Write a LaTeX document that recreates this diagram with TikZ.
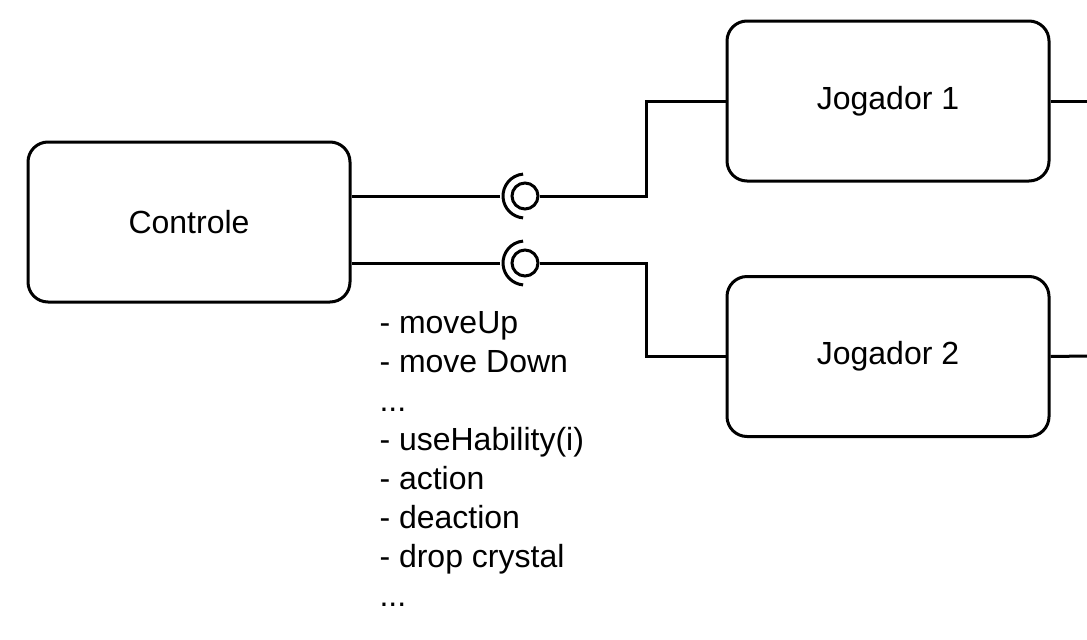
\documentclass[tikz,border=0pt]{standalone}
\usepackage{fontspec}
\setmainfont{Liberation Sans}
\begin{document}
\begin{tikzpicture}[x=0.75pt,y=-0.75pt,line width=2.25pt,
  comp/.style={draw,rounded corners=15pt,minimum width=241.5pt,minimum height=120pt,font=\fontsize{24}{29}\selectfont},
  ball/.style={draw,circle,minimum size=19.5pt,inner sep=0pt},
  wire/.style={draw}]
\useasboundingbox (0,0) rectangle (1087,639);
\node[comp] (c) at (189,222) {Controle};
\node[comp] (j1) at (888,101) {Jogador 1};
\node[comp] (j2) at (888,356.5) {Jogador 2};
\node[ball] (s1) at (525,196) {};
\node[ball] (s2) at (525,263) {};
\draw ([shift={(95:16.5pt)}]s1.center) arc[start angle=95,end angle=265,radius=16.5pt];
\draw ([shift={(95:16.5pt)}]s2.center) arc[start angle=95,end angle=265,radius=16.5pt];
\coordinate (k1) at (646,196);
\coordinate (k2) at (646,263);
\coordinate (e1) at (1087,101);
\coordinate (e2) at (1087,356);
\draw[wire] (c.east |- s1.center) -- ([xshift=-8pt]s1.west);
\draw[wire] (c.east |- s2.center) -- ([xshift=-8pt]s2.west);
\draw[wire] (s1.east) -- (k1) |- (j1.west);
\draw[wire] (s2.east) -- (k2) |- (j2.west);
\draw[wire] (j1.east) -- (e1);
\draw[wire] (j2.east) -- (e2);
\node[anchor=base west,align=left,inner sep=0pt,font=\fontsize{24}{29.25}\selectfont] (ops) at (378,606)
 {- moveUp\\- move Down\\...\\- useHability(i)\\- action\\- deaction\\- drop crystal\\...};
\end{tikzpicture}
\end{document}
